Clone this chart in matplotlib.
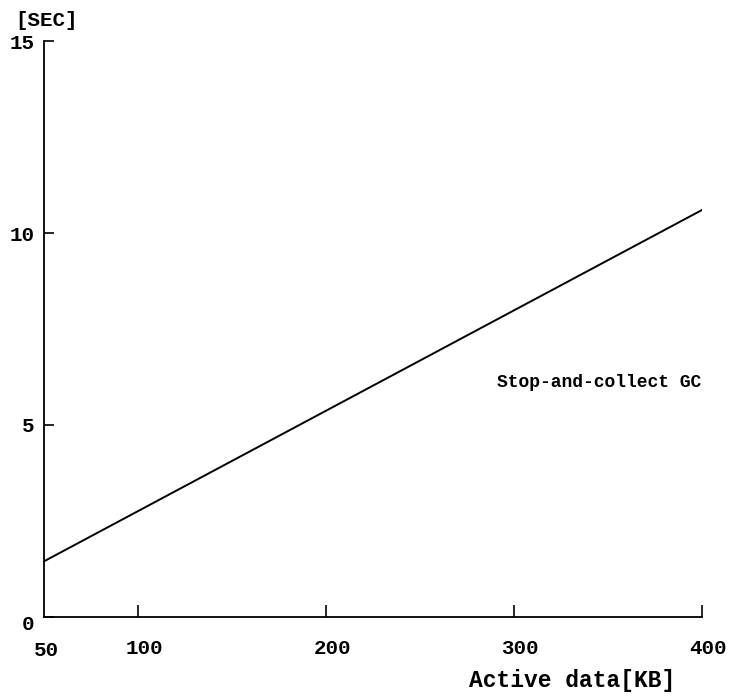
import matplotlib.pyplot as plt
import matplotlib.transforms as mtransforms

# active data size [KB] vs. GC time [sec]
active_kb = [50, 400]
gc_sec = [1.45, 10.6]

x_ticks = [100, 200, 300, 400]
x_labels = ["100", "200", "300", "400"]
y_ticks = [0, 5, 10, 15]
y_labels = ["0", "5", "10", "15"]

plt.rcParams['font.family'] = ['Liberation Mono', 'DejaVu Sans Mono']

fig = plt.figure(figsize=(7.41, 7.0), dpi=100)
ax = fig.add_axes([0.0594, 0.1186, 0.888, 0.8228])

ax.plot(active_kb, gc_sec, color="black", linewidth=1.4)

ax.set_xlim(50, 400)
ax.set_ylim(0, 15)
ax.spines["top"].set_visible(False)
ax.spines["right"].set_visible(False)
for s in ("left", "bottom"):
    ax.spines[s].set_linewidth(1.3)

ax.set_xticks(x_ticks)
ax.set_xticklabels(x_labels, fontsize=15, fontweight="bold")
ax.set_yticks(y_ticks)
ax.set_yticklabels(y_labels, fontsize=15, fontweight="bold")
ax.tick_params(axis="x", direction="in", length=9, width=1.2, pad=16)
ax.tick_params(axis="y", direction="in", length=7, width=1.2, pad=7)

# x labels sit a little right of their ticks in the original
shift = mtransforms.ScaledTranslation(6 / 100, 0, fig.dpi_scale_trans)
for lbl in ax.get_xticklabels():
    lbl.set_transform(lbl.get_transform() + shift)
# y label 0 sits a bit below the axis
ax.get_yticklabels()[0].set_transform(
    ax.get_yticklabels()[0].get_transform()
    + mtransforms.ScaledTranslation(0, -6 / 100, fig.dpi_scale_trans))

# corner label 50 sits under the y axis
fig.text(46 / 741, 1 - 651 / 700, "50", ha="center", va="center",
         fontsize=15, fontweight="bold")

ax.text(291, 6.1, "Stop-and-collect GC", fontsize=13, fontweight="bold", va="center")
fig.text(572 / 741, 1 - 680 / 700, "Active data[KB]", ha="center", va="center",
         fontsize=16.5, fontweight="bold")
fig.text(15 / 741, 1 - 20 / 700, "[SEC]", ha="left", va="center",
         fontsize=15, fontweight="bold")

fig.savefig("out.png", dpi=100)
